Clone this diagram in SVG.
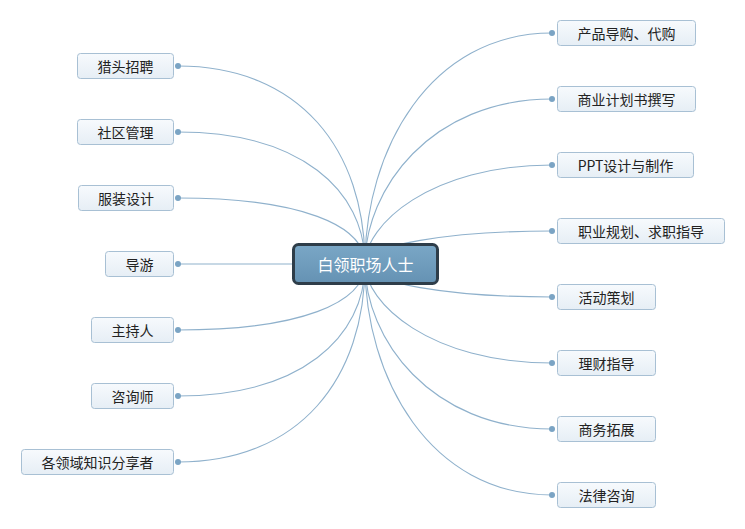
<svg xmlns="http://www.w3.org/2000/svg" width="745" height="529" viewBox="0 0 745 529">
<defs>
<linearGradient id="nodeg" x1="0" y1="0" x2="0" y2="1"><stop offset="0" stop-color="#f7fafd"/><stop offset="1" stop-color="#e6eef5"/></linearGradient>
<linearGradient id="cg" x1="0" y1="0" x2="0" y2="1"><stop offset="0" stop-color="#7aa7c6"/><stop offset="1" stop-color="#6592b3"/></linearGradient>
<style>
.n rect{fill:url(#nodeg);stroke:#a8c0d4;stroke-width:1}
.n text{font-family:"Noto Sans CJK SC","Noto Sans CJK JP",sans-serif;font-size:14px;fill:#222;text-anchor:middle;dominant-baseline:central}
.c path{fill:none;stroke:#8fb1cc;stroke-width:1.1}
.c circle{fill:#7ba4c4}
.center rect{fill:url(#cg);stroke:#2e3d49;stroke-width:3}
.center text{font-family:"Noto Sans CJK SC","Noto Sans CJK JP",sans-serif;font-size:16px;fill:#fff;text-anchor:middle;dominant-baseline:central}
</style>
</defs>
<rect width="745" height="529" fill="#ffffff"/>
<g class="c" id="connectors">
<path d="M178,66 C300,66 365,150 365,264"/>
<path d="M178,132 C300,132 365,190 365,264"/>
<path d="M178,198 C300,198 365,225 365,264"/>
<path d="M178,264 L300,264"/>
<path d="M178,330 C300,330 365,303 365,264"/>
<path d="M178,396 C300,396 365,338 365,264"/>
<path d="M178,462 C300,462 365,378 365,264"/>
<path d="M552,33 C430,33 365,150 365,264"/>
<path d="M552,99 C430,99 365,190 365,264"/>
<path d="M552,165 C430,165 365,225 365,264"/>
<path d="M552,231 C450,231 365,245 365,264"/>
<path d="M552,297 C450,297 365,283 365,264"/>
<path d="M552,363 C430,363 365,303 365,264"/>
<path d="M552,429 C430,429 365,338 365,264"/>
<path d="M552,495 C430,495 365,378 365,264"/>
<circle cx="178" cy="66" r="3"/>
<circle cx="178" cy="132" r="3"/>
<circle cx="178" cy="198" r="3"/>
<circle cx="178" cy="264" r="3"/>
<circle cx="178" cy="330" r="3"/>
<circle cx="178" cy="396" r="3"/>
<circle cx="178" cy="462" r="3"/>
<circle cx="552" cy="33" r="3"/>
<circle cx="552" cy="99" r="3"/>
<circle cx="552" cy="165" r="3"/>
<circle cx="552" cy="231" r="3"/>
<circle cx="552" cy="297" r="3"/>
<circle cx="552" cy="363" r="3"/>
<circle cx="552" cy="429" r="3"/>
<circle cx="552" cy="495" r="3"/>
</g>
<g id="center" class="center"><rect x="293.5" y="244.5" width="144" height="39" rx="5"/><text x="365.5" y="264">白领职场人士</text></g>
<g id="n1" class="n"><rect x="77.5" y="53.5" width="96" height="25" rx="3"/><text x="125.5" y="66">猎头招聘</text></g>
<g id="n2" class="n"><rect x="77.5" y="119.5" width="96" height="25" rx="3"/><text x="125.5" y="132">社区管理</text></g>
<g id="n3" class="n"><rect x="78.5" y="185.5" width="95" height="25" rx="3"/><text x="126" y="198">服装设计</text></g>
<g id="n4" class="n"><rect x="105.5" y="251.5" width="68" height="25" rx="3"/><text x="139.5" y="264">导游</text></g>
<g id="n5" class="n"><rect x="91.5" y="317.5" width="82" height="25" rx="3"/><text x="132.5" y="330">主持人</text></g>
<g id="n6" class="n"><rect x="91.5" y="383.5" width="82" height="25" rx="3"/><text x="132.5" y="396">咨询师</text></g>
<g id="n7" class="n"><rect x="21.5" y="449.5" width="152" height="25" rx="3"/><text x="97.5" y="462">各领域知识分享者</text></g>
<g id="m1" class="n"><rect x="557.5" y="20.5" width="138" height="25" rx="3"/><text x="626.5" y="33">产品导购、代购</text></g>
<g id="m2" class="n"><rect x="557.5" y="86.5" width="138" height="25" rx="3"/><text x="626.5" y="99">商业计划书撰写</text></g>
<g id="m3" class="n"><rect x="557.5" y="152.5" width="136" height="25" rx="3"/><text x="625.5" y="165">PPT设计与制作</text></g>
<g id="m4" class="n"><rect x="557.5" y="218.5" width="167" height="25" rx="3"/><text x="641" y="231">职业规划、求职指导</text></g>
<g id="m5" class="n"><rect x="557.5" y="284.5" width="98" height="25" rx="3"/><text x="606.5" y="297">活动策划</text></g>
<g id="m6" class="n"><rect x="557.5" y="350.5" width="98" height="25" rx="3"/><text x="606.5" y="363">理财指导</text></g>
<g id="m7" class="n"><rect x="557.5" y="416.5" width="98" height="25" rx="3"/><text x="606.5" y="429">商务拓展</text></g>
<g id="m8" class="n"><rect x="557.5" y="482.5" width="98" height="25" rx="3"/><text x="606.5" y="495">法律咨询</text></g>
</svg>
